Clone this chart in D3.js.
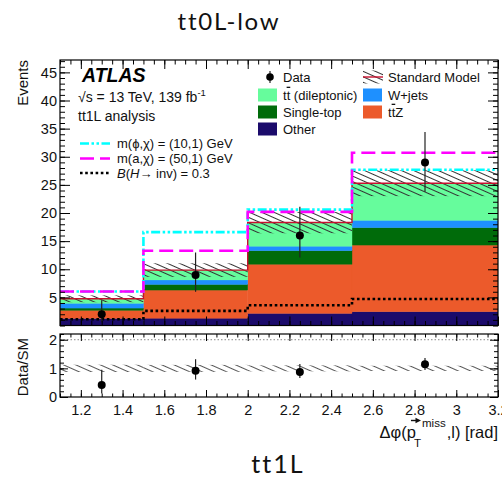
<!DOCTYPE html>
<html>
<head>
<meta charset="utf-8">
<script src="https://cdn.jsdelivr.net/npm/d3@7"></script>
<style>
  body { margin: 0; background: #fff; }
  svg { display: block; }
  text { font-family: "Liberation Sans", Arial, Helvetica, sans-serif; }
</style>
</head>
<body>
<svg id="chart" width="502" height="477"></svg>
<script>
// ---- data ----
const binEdges = [1.1, 1.5, 2.0, 2.5, 3.2];
const dataX = [1.3, 1.75, 2.25, 2.85];
const dataCounts = [2, 9, 16, 29];
const dataErrLow = [1.4, 3.0, 3.9, 5.2];
const dataErrHigh = [2.5, 4.0, 5.1, 5.4];

// background stack, bottom to top
const bkgOther = [1.25, 1.3, 2.15, 2.45];
const bkgTtZ = [1.45, 5.0, 8.75, 11.85];
const bkgSingleTop = [0.4, 1.0, 2.4, 3.1];
const bkgWjets = [0.85, 0.8, 0.8, 1.3];
const bkgTtDilep = [0.8, 1.75, 4.2, 6.6];
const smUncert = [0.6, 1.2, 1.9, 2.3];

// signal hypotheses (total expected yield)
const sigPhi10 = [6.05, 16.6, 20.6, 27.7];
const sigA50 = [6.05, 13.3, 20.2, 30.7];
const sigHinv = [1.1, 2.6, 3.6, 4.7];

const xMajorTicks = [1.2, 1.4, 1.6, 1.8, 2.0, 2.2, 2.4, 2.6, 2.8, 3.0, 3.2];
const yMajorTicks = [5, 10, 15, 20, 25, 30, 35, 40, 45];
const ratioMajorTicks = [0, 1, 2];

const bkgKeys = ["other", "ttz", "singletop", "wjets", "ttdilep"];
const bkgColors = {
  other: "#1b0b6b",
  ttz: "#ec5a2b",
  singletop: "#006b0a",
  wjets: "#1e90ff",
  ttdilep: "#66fc9c"
};

// ---- layout ----
const svg = d3.select("#chart");
const L = 60, R = 498;
const mainTop = 60, mainBot = 325.5;
const ratTop = 334, ratBot = 397;
const FONT = '"Liberation Sans", Arial, Helvetica, sans-serif';

const x = d3.scaleLinear().domain([1.1, 3.2]).range([L, R]);
const y = d3.scaleLinear().domain([0, 47.2]).range([mainBot, mainTop]);
const yr = d3.scaleLinear().domain([0, 2.2]).range([ratBot, ratTop]);

const defs = svg.append("defs");
function hatchPattern(id, color, spacing) {
  const p = defs.append("pattern").attr("id", id)
    .attr("patternUnits", "userSpaceOnUse")
    .attr("width", 10).attr("height", spacing)
    .attr("patternTransform", "rotate(24)");
  p.append("line").attr("x1", 0).attr("x2", 10).attr("y1", spacing / 2).attr("y2", spacing / 2)
    .attr("stroke", color).attr("stroke-width", 1);
}
hatchPattern("hatch", "#333", 5);
hatchPattern("hatchRatio", "#555", 5);

defs.append("clipPath").attr("id", "clipMain").append("rect")
  .attr("x", L).attr("y", mainTop).attr("width", R - L).attr("height", mainBot - mainTop);
defs.append("clipPath").attr("id", "clipRatio").append("rect")
  .attr("x", L).attr("y", ratTop).attr("width", R - L).attr("height", ratBot - ratTop);

// ---- titles ----
svg.append("text").attr("x", 229).attr("y", 30).attr("text-anchor", "middle")
  .style("font-family", "Lato, 'Open Sans', sans-serif").attr("font-size", 24)
  .attr("letter-spacing", 1.8).attr("fill", "#111").text("tt0L-low");
svg.append("text").attr("x", 278).attr("y", 473).attr("text-anchor", "middle")
  .style("font-family", "Lato, 'Open Sans', sans-serif").attr("font-size", 25)
  .attr("letter-spacing", 2).attr("fill", "#111").text("tt1L");

// ---- main panel ----
const gMain = svg.append("g").attr("clip-path", "url(#clipMain)");

const rows = d3.range(4).map(i => ({
  bin: i,
  other: bkgOther[i], ttz: bkgTtZ[i], singletop: bkgSingleTop[i],
  wjets: bkgWjets[i], ttdilep: bkgTtDilep[i]
}));
const stacked = d3.stack().keys(bkgKeys)(rows);
const smTotal = rows.map(r => bkgKeys.reduce((s, k) => s + r[k], 0));

stacked.forEach(layer => {
  gMain.append("g").selectAll("rect").data(layer).join("rect")
    .attr("x", d => x(binEdges[d.data.bin]))
    .attr("width", d => x(binEdges[d.data.bin + 1]) - x(binEdges[d.data.bin]))
    .attr("y", d => y(d[1]))
    .attr("height", d => y(d[0]) - y(d[1]))
    .attr("fill", bkgColors[layer.key])
    .attr("stroke", bkgColors[layer.key]).attr("stroke-width", 0.4);
});

// SM uncertainty band
gMain.append("g").selectAll("rect").data(d3.range(4)).join("rect")
  .attr("x", i => x(binEdges[i]))
  .attr("width", i => x(binEdges[i + 1]) - x(binEdges[i]))
  .attr("y", i => y(smTotal[i] + smUncert[i]))
  .attr("height", i => y(smTotal[i] - smUncert[i]) - y(smTotal[i] + smUncert[i]))
  .attr("fill", "url(#hatch)");

const stepLine = d3.line().x(d => x(d[0])).y(d => y(d[1])).curve(d3.curveStepAfter);
const stepPts = vals => binEdges.map((e, i) => [e, vals[Math.min(i, vals.length - 1)]]);

gMain.append("path").attr("d", stepLine(stepPts(smTotal)))
  .attr("fill", "none").attr("stroke", "#c8102e").attr("stroke-width", 1.4);

gMain.append("path").attr("d", stepLine(stepPts(sigHinv)))
  .attr("fill", "none").attr("stroke", "#000").attr("stroke-width", 2.6)
  .attr("stroke-dasharray", "2.6,2.6");
gMain.append("path").attr("d", stepLine(stepPts(sigPhi10)))
  .attr("fill", "none").attr("stroke", "#00ffff").attr("stroke-width", 2.6)
  .attr("stroke-dasharray", "9,2.5,2.5,2.5,2.5,2.5");
gMain.append("path").attr("d", stepLine(stepPts(sigA50)))
  .attr("fill", "none").attr("stroke", "#ff00ff").attr("stroke-width", 2.6)
  .attr("stroke-dasharray", "14,6");

// data points
const gData = gMain.append("g");
gData.selectAll("line").data(d3.range(4)).join("line")
  .attr("x1", i => x(dataX[i])).attr("x2", i => x(dataX[i]))
  .attr("y1", i => y(dataCounts[i] + dataErrHigh[i]))
  .attr("y2", i => y(dataCounts[i] - dataErrLow[i]))
  .attr("stroke", "#222").attr("stroke-width", 1.2);
gData.selectAll("circle").data(d3.range(4)).join("circle")
  .attr("cx", i => x(dataX[i])).attr("cy", i => y(dataCounts[i]))
  .attr("r", 4).attr("fill", "#000");

// ---- ratio panel ----
const gRat = svg.append("g").attr("clip-path", "url(#clipRatio)");
gRat.append("line").attr("x1", L).attr("x2", R).attr("y1", yr(2)).attr("y2", yr(2))
  .attr("stroke", "#888").attr("stroke-width", 1).attr("stroke-dasharray", "1.5,2");
gRat.append("g").selectAll("rect").data(d3.range(4)).join("rect")
  .attr("x", i => x(binEdges[i]))
  .attr("width", i => x(binEdges[i + 1]) - x(binEdges[i]))
  .attr("y", i => yr(1 + smUncert[i] / smTotal[i]))
  .attr("height", i => yr(1 - smUncert[i] / smTotal[i]) - yr(1 + smUncert[i] / smTotal[i]))
  .attr("fill", "url(#hatchRatio)");
const ratio = d3.range(4).map(i => ({
  x: dataX[i],
  v: dataCounts[i] / smTotal[i],
  lo: (dataCounts[i] - dataErrLow[i]) / smTotal[i],
  hi: (dataCounts[i] + dataErrHigh[i]) / smTotal[i]
}));
gRat.append("g").selectAll("line").data(ratio).join("line")
  .attr("x1", d => x(d.x)).attr("x2", d => x(d.x))
  .attr("y1", d => yr(d.hi)).attr("y2", d => yr(d.lo))
  .attr("stroke", "#222").attr("stroke-width", 1.2);
gRat.append("g").selectAll("circle").data(ratio).join("circle")
  .attr("cx", d => x(d.x)).attr("cy", d => yr(d.v)).attr("r", 4).attr("fill", "#000");

// ---- axes (inward ROOT-style ticks) ----
function styleAxis(g, fontSize) {
  g.select(".domain").remove();
  g.selectAll("line").attr("stroke", "#000").attr("stroke-width", 1);
  g.attr("font-family", FONT).attr("font-size", fontSize || 14);
  g.selectAll("text").attr("fill", "#111");
  return g;
}
const xMinor = d3.range(1.1, 3.2001, 0.05).map(v => +v.toFixed(2));
const yMinor = d3.range(0, 47.2, 1);
const rMinor = d3.range(0, 2.21, 0.2).map(v => +v.toFixed(2));
const xFmt = d => String(+d.toFixed(1));

// main panel
styleAxis(svg.append("g").attr("transform", `translate(0,${mainBot})`)
  .call(d3.axisBottom(x).tickValues(xMajorTicks).tickSize(-9).tickFormat("")));
styleAxis(svg.append("g").attr("transform", `translate(0,${mainBot})`)
  .call(d3.axisBottom(x).tickValues(xMinor).tickSize(-4.5).tickFormat("")));
styleAxis(svg.append("g").attr("transform", `translate(0,${mainTop})`)
  .call(d3.axisTop(x).tickValues(xMajorTicks).tickSize(-9).tickFormat("")));
styleAxis(svg.append("g").attr("transform", `translate(0,${mainTop})`)
  .call(d3.axisTop(x).tickValues(xMinor).tickSize(-4.5).tickFormat("")));
styleAxis(svg.append("g").attr("transform", `translate(${L},0)`)
  .call(d3.axisLeft(y).tickValues(yMajorTicks).tickSize(-10).tickPadding(3)), 14.5);
styleAxis(svg.append("g").attr("transform", `translate(${L},0)`)
  .call(d3.axisLeft(y).tickValues(yMinor).tickSize(-5).tickFormat("")));
styleAxis(svg.append("g").attr("transform", `translate(${R},0)`)
  .call(d3.axisRight(y).tickValues(yMajorTicks).tickSize(-10).tickFormat("")));
styleAxis(svg.append("g").attr("transform", `translate(${R},0)`)
  .call(d3.axisRight(y).tickValues(yMinor).tickSize(-5).tickFormat("")));

// ratio panel
styleAxis(svg.append("g").attr("transform", `translate(0,${ratBot})`)
  .call(d3.axisBottom(x).tickValues(xMajorTicks).tickSize(-7).tickPadding(8).tickFormat(xFmt)), 14.5);
styleAxis(svg.append("g").attr("transform", `translate(0,${ratBot})`)
  .call(d3.axisBottom(x).tickValues(xMinor).tickSize(-3.5).tickFormat("")));
styleAxis(svg.append("g").attr("transform", `translate(0,${ratTop})`)
  .call(d3.axisTop(x).tickValues(xMajorTicks).tickSize(-7).tickFormat("")));
styleAxis(svg.append("g").attr("transform", `translate(0,${ratTop})`)
  .call(d3.axisTop(x).tickValues(xMinor).tickSize(-3.5).tickFormat("")));
styleAxis(svg.append("g").attr("transform", `translate(${L},0)`)
  .call(d3.axisLeft(yr).tickValues(ratioMajorTicks).tickSize(-8).tickPadding(3).tickFormat(d3.format("d"))), 14.5);
styleAxis(svg.append("g").attr("transform", `translate(${L},0)`)
  .call(d3.axisLeft(yr).tickValues(rMinor).tickSize(-4).tickFormat("")));
styleAxis(svg.append("g").attr("transform", `translate(${R},0)`)
  .call(d3.axisRight(yr).tickValues(ratioMajorTicks).tickSize(-8).tickFormat("")));
styleAxis(svg.append("g").attr("transform", `translate(${R},0)`)
  .call(d3.axisRight(yr).tickValues(rMinor).tickSize(-4).tickFormat("")));

// frames
[[mainTop, mainBot], [ratTop, ratBot]].forEach(([t, b]) => {
  svg.append("rect").attr("x", L).attr("y", t).attr("width", R - L).attr("height", b - t)
    .attr("fill", "none").attr("stroke", "#000").attr("stroke-width", 1.2);
});

// axis titles
svg.append("text").attr("transform", `translate(28,${mainTop}) rotate(-90)`)
  .attr("text-anchor", "end").attr("font-size", 15).attr("fill", "#111").text("Events");
svg.append("text").attr("transform", `translate(28,338) rotate(-90)`)
  .attr("text-anchor", "end").attr("font-size", 15).attr("fill", "#111").text("Data/SM");

// x title: Δφ(p_T^miss, l) [rad], right aligned
(function () {
  const g = svg.append("g").attr("fill", "#111");
  const base = 438, fs = 16.5;
  const t1 = g.append("text").attr("y", base).attr("font-size", fs).text("Δφ(p");
  const tSub = g.append("text").attr("y", base + 9).attr("font-size", 11.5).text("T");
  const tSup = g.append("text").attr("y", base - 11).attr("font-size", 11.5).text("miss");
  const t2 = g.append("text").attr("y", base).attr("font-size", fs).text(",l) [rad]");
  const w1 = t1.node().getComputedTextLength();
  const wSub = tSub.node().getComputedTextLength();
  const wSup = tSup.node().getComputedTextLength();
  const w2 = t2.node().getComputedTextLength();
  const supShift = 6;
  const scriptW = Math.max(wSub - 2, wSup + supShift);
  const total = w1 + scriptW + 1 + w2;
  const x0 = R - total;
  t1.attr("x", x0);
  tSub.attr("x", x0 + w1 - 2);
  tSup.attr("x", x0 + w1 + supShift);
  t2.attr("x", x0 + w1 + scriptW + 1);
  // arrow over the p
  const pw = fs * 0.556;
  const ax0 = x0 + w1 - pw * 0.55, ax1 = x0 + w1 + 5, ay = base - 17.5;
  g.append("line").attr("x1", ax0).attr("x2", ax1 - 3).attr("y1", ay).attr("y2", ay)
    .attr("stroke", "#111").attr("stroke-width", 1.4);
  g.append("path").attr("d", `M${ax1},${ay} L${ax1 - 5.5},${ay - 2.8} L${ax1 - 5.5},${ay + 2.8} Z`)
    .attr("fill", "#111");
})();

// ---- labels inside the main panel ----
svg.append("text").attr("x", 82).attr("y", 82).attr("font-size", 19.5)
  .attr("font-weight", "bold").attr("font-style", "italic").attr("fill", "#000").text("ATLAS");
const lumi = svg.append("text").attr("x", 78).attr("y", 102).attr("font-size", 14).attr("fill", "#111");
lumi.append("tspan").text("√s = 13 TeV, 139 fb");
lumi.append("tspan").attr("dy", -6).attr("font-size", 9.5).text("-1");
svg.append("text").attr("x", 78).attr("y", 121).attr("font-size", 14).attr("fill", "#111")
  .text("tt1L analysis");

// signal legend
const sigLegend = [
  { y: 143.5, stroke: "#00ffff", dash: "9,2.5,2.5,2.5,2.5,2.5", label: "m(ϕ,χ) = (10,1) GeV" },
  { y: 158.5, stroke: "#ff00ff", dash: "14,6", label: "m(a,χ) = (50,1) GeV" },
  { y: 173, stroke: "#000", dash: "2.6,2.6", label: null }
];
sigLegend.forEach(d => {
  svg.append("line").attr("x1", 80).attr("x2", 110).attr("y1", d.y).attr("y2", d.y)
    .attr("stroke", d.stroke).attr("stroke-width", 2.6).attr("stroke-dasharray", d.dash);
  const t = svg.append("text").attr("x", 117).attr("y", d.y + 4.7).attr("font-size", 13).attr("fill", "#111");
  if (d.label) t.text(d.label);
  else {
    t.append("tspan").attr("font-style", "italic").text("B");
    t.append("tspan").text("(");
    t.append("tspan").attr("font-style", "italic").text("H");
    t.append("tspan").text("→ inv) = 0.3");
  }
});

// process legend
const legRows = [77, 95, 112, 129];
function legText(xp, yc, parts) {
  const t = svg.append("text").attr("x", xp).attr("y", yc + 4.7).attr("font-size", 13).attr("fill", "#111");
  parts.forEach(p => {
    const s = t.append("tspan").text(p.t);
    if (p.bar) s.attr("text-decoration", "overline");
  });
}
// Data
svg.append("line").attr("x1", 270).attr("x2", 270).attr("y1", legRows[0] - 6).attr("y2", legRows[0] + 6)
  .attr("stroke", "#222").attr("stroke-width", 1.2);
svg.append("circle").attr("cx", 270).attr("cy", legRows[0]).attr("r", 3.8).attr("fill", "#000");
legText(283, legRows[0], [{ t: "Data" }]);
// Standard Model
svg.append("rect").attr("x", 363).attr("y", legRows[0] - 6.5).attr("width", 20).attr("height", 13)
  .attr("fill", "url(#hatch)");
svg.append("line").attr("x1", 363).attr("x2", 383).attr("y1", legRows[0]).attr("y2", legRows[0])
  .attr("stroke", "#c8102e").attr("stroke-width", 1.4);
legText(388, legRows[0], [{ t: "Standard Model" }]);

const boxes = [
  { xb: 258, xt: 283, row: 1, key: "ttdilep", parts: [{ t: "t" }, { t: "t", bar: true }, { t: " (dileptonic)" }] },
  { xb: 363, xt: 388, row: 1, key: "wjets", parts: [{ t: "W+jets" }] },
  { xb: 258, xt: 283, row: 2, key: "singletop", parts: [{ t: "Single-top" }] },
  { xb: 363, xt: 388, row: 2, key: "ttz", parts: [{ t: "t" }, { t: "t", bar: true }, { t: "Z" }] },
  { xb: 258, xt: 283, row: 3, key: "other", parts: [{ t: "Other" }] }
];
boxes.forEach(b => {
  const yc = legRows[b.row];
  svg.append("rect").attr("x", b.xb).attr("y", yc - 6.5).attr("width", 19).attr("height", 13)
    .attr("fill", bkgColors[b.key]);
  legText(b.xt, yc, b.parts);
});
</script>
</body>
</html>
